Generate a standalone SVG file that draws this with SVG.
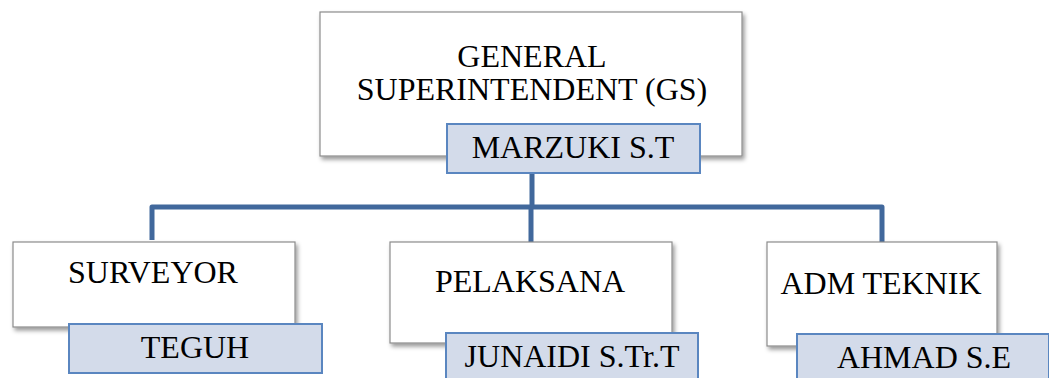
<svg xmlns="http://www.w3.org/2000/svg" width="1049" height="378" viewBox="0 0 1049 378">
<style>
.box{fill:#ffffff;stroke:#8c8c8c;stroke-width:1.2;filter:url(#sh)}
.name{fill:#d3dbea;stroke:#5a86c0;stroke-width:2}
.t{font-family:"Liberation Serif","Times New Roman",serif;font-size:32px;fill:#000;text-anchor:middle}
.conn{fill:none;stroke:#41689c;stroke-width:5;stroke-linejoin:round}
</style>
<defs>
<filter id="sh" x="-10%" y="-10%" width="125%" height="130%">
<feDropShadow dx="2" dy="3" stdDeviation="2" flood-color="#000" flood-opacity="0.4"/>
</filter>
</defs>
<rect width="1049" height="378" fill="#ffffff"/>
<g id="connectors">
<path class="conn" d="M532 173 V207 M152 240 V207 H882 V242 M531 207 V242"/>
</g>
<g id="gs">
<rect class="box" x="320" y="12" width="422" height="144"/>
<text class="t" x="532" y="67">GENERAL</text>
<text class="t" x="532" y="100">SUPERINTENDENT (GS)</text>
<rect class="name" x="447" y="124" width="253" height="49"/>
<text class="t" x="573" y="158">MARZUKI S.T</text>
</g>
<g id="surveyor">
<rect class="box" x="13" y="242" width="282" height="85"/>
<text class="t" x="153" y="283">SURVEYOR</text>
<rect class="name" x="69" y="324" width="253" height="49"/>
<text class="t" x="195" y="358">TEGUH</text>
</g>
<g id="pelaksana">
<rect class="box" x="390" y="242" width="282" height="101"/>
<text class="t" x="530" y="292">PELAKSANA</text>
<rect class="name" x="446" y="333" width="252" height="50"/>
<text class="t" x="572" y="367">JUNAIDI S.Tr.T</text>
</g>
<g id="admteknik">
<rect class="box" x="767" y="242" width="230" height="104"/>
<text class="t" x="881" y="294">ADM TEKNIK</text>
<rect class="name" x="797" y="334" width="252" height="50"/>
<text class="t" x="924" y="368">AHMAD S.E</text>
</g>
</svg>
